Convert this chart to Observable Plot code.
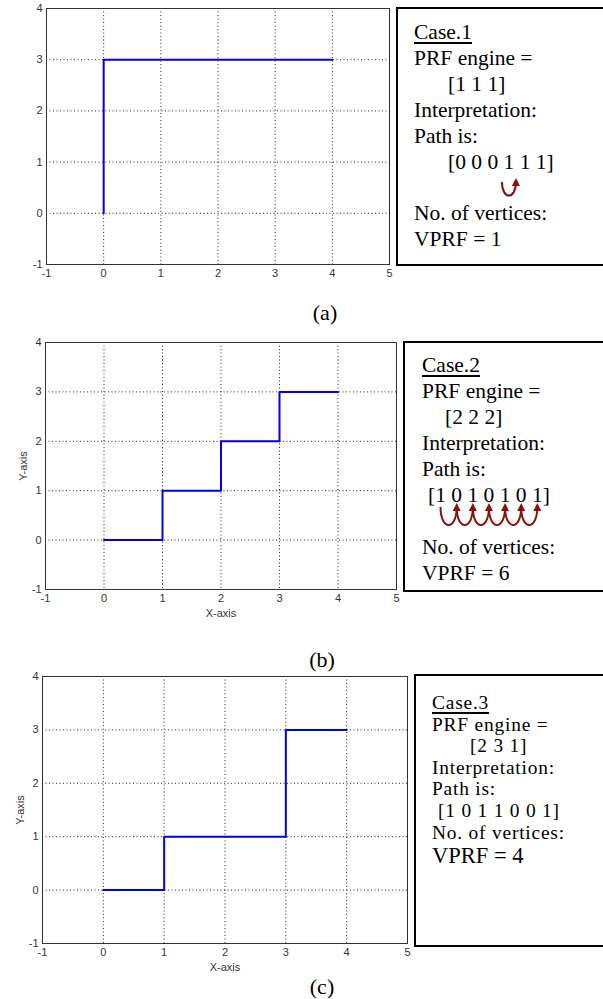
<!DOCTYPE html>
<html>
<head>
<meta charset="utf-8">
<script src="https://cdn.jsdelivr.net/npm/d3@7"></script>
<script src="https://cdn.jsdelivr.net/npm/@observablehq/plot@0.6"></script>
<style>
  html, body { margin: 0; padding: 0; background: #fff; }
  #page { position: relative; width: 603px; height: 999px; overflow: hidden; background: #fff; }
  .panel { position: absolute; left: 0; }
  .box { position: absolute; border: 2px solid #000; box-sizing: border-box; font-family: "Liberation Serif", "Times New Roman", serif; font-size: 21.5px; color: #000; white-space: pre; }
  .box .ln { display: block; }
  .box .u { text-decoration: underline; text-underline-offset: 3px; text-decoration-thickness: 1.5px; }
  .cap { position: absolute; font-family: "Liberation Serif", "Times New Roman", serif; font-size: 22px; transform: translate(-50%, -50%); }
  #arcs { position: absolute; left: 0; top: 0; width: 603px; height: 999px; pointer-events: none; }
</style>
</head>
<body>
<div id="page"></div>
<script>
// ---- data ----
const xTicks = [-1, 0, 1, 2, 3, 4, 5];
const yTicks = [-1, 0, 1, 2, 3, 4];
const gridXTicks = [0, 1, 2, 3, 4];
const gridYTicks = [0, 1, 2, 3];

// path corner points (drawn with a step-after curve)
const case1X = [0, 0, 4];
const case1Y = [0, 3, 3];
const case2X = [0, 1, 2, 3, 4];
const case2Y = [0, 1, 2, 3, 3];
const case3X = [0, 1, 3, 4];
const case3Y = [0, 1, 3, 3];

const case1Lines = ["Case.1", "PRF engine =", "[1 1 1]", "Interpretation:", "Path is:", "[0 0 0 1 1 1]", "", "No. of vertices:", "VPRF = 1"];
const case2Lines = ["Case.2", "PRF engine =", "[2 2 2]", "Interpretation:", "Path is:", "[1 0 1 0 1 0 1]", "", "No. of vertices:", "VPRF = 6"];
const case3Lines = ["Case.3", "PRF engine =", "[2 3 1]", "Interpretation:", "Path is:", "[1 0 1 1 0 0 1]", "No. of vertices:", "VPRF = 4"];
const captions = ["(a)", "(b)", "(c)"];

const page = document.getElementById("page");
const fmt = d => String(d);

function panel(xs, ys, opt) {
  const idx = xs.map((_, i) => i);
  const p = Plot.plot({
    width: opt.width, height: opt.height,
    marginLeft: opt.ml, marginRight: opt.mr, marginTop: opt.mt, marginBottom: opt.mb,
    x: {domain: [-1, 5]},
    y: {domain: [-1, 4]},
    style: {fontFamily: "'Liberation Sans', Arial, sans-serif", fontSize: "11px", color: "#222", background: "transparent", overflow: "visible"},
    marks: [
      Plot.gridX(gridXTicks, {stroke: "#000", strokeOpacity: 0.85, strokeDasharray: "1,2.5"}),
      Plot.gridY(gridYTicks, {stroke: "#000", strokeOpacity: 0.85, strokeDasharray: "1,2.5"}),
      Plot.axisX(xTicks, {tickSize: 0, tickPadding: 5, tickFormat: fmt, label: opt.labels ? "X-axis" : null, labelAnchor: "center", labelArrow: "none", labelOffset: 27, fill: "#333"}),
      Plot.axisY(yTicks, {tickSize: 0, tickPadding: 4, tickFormat: fmt, label: opt.labels ? "Y-axis" : null, labelAnchor: "center", labelArrow: "none", labelOffset: 26, fill: "#333"}),
      Plot.line(idx, {x: i => xs[i], y: i => ys[i], curve: "step-after", stroke: "#0000ee", strokeWidth: 2}),
      Plot.frame({stroke: "#333", strokeWidth: 1})
    ]
  });
  p.classList.add("panel");
  p.style.top = opt.top + "px";
  page.appendChild(p);
}

panel(case1X, case1Y, {top: 0, width: 395, height: 290, ml: 46, mr: 6, mt: 8, mb: 26, labels: false});
panel(case2X, case2Y, {top: 330, width: 400, height: 290, ml: 45, mr: 4, mt: 12, mb: 31, labels: true});
panel(case3X, case3Y, {top: 665, width: 412, height: 310, ml: 42, mr: 5, mt: 11, mb: 32, labels: true});

function box(lines, opt) {
  const d = document.createElement("div");
  d.className = "box";
  d.style.left = opt.left + "px";
  d.style.top = opt.top + "px";
  d.style.width = (640 - opt.left) + "px";
  d.style.height = (opt.bottom - opt.top) + "px";
  d.style.paddingLeft = opt.pl + "px";
  d.style.paddingTop = opt.pt + "px";
  d.style.lineHeight = opt.lh + "px";
  if (opt.fs) d.style.fontSize = opt.fs + "px";
  if (opt.ls) d.style.letterSpacing = opt.ls + "px";
  lines.forEach((t, i) => {
    const l = document.createElement("span");
    l.className = "ln";
    if (i === 0) {
      const u = document.createElement("span");
      u.className = "u";
      u.textContent = t;
      l.appendChild(u);
    } else if (opt.digitsLine === i) {
      // split the path digits so the arcs can find them
      l.appendChild(document.createTextNode("["));
      const ds = t.slice(1, -1).split(" ");
      ds.forEach((dg, k) => {
        const s = document.createElement("span");
        s.className = "dg";
        s.textContent = dg;
        l.appendChild(s);
        if (k < ds.length - 1) l.appendChild(document.createTextNode(" "));
      });
      l.appendChild(document.createTextNode("]"));
    } else {
      l.textContent = t || "\u00a0";
    }
    if (opt.indent[i]) l.style.paddingLeft = opt.indent[i] + "px";
    if (opt.big && opt.big[i]) { l.style.fontSize = opt.big[i][0] + "px"; l.style.marginTop = opt.big[i][1] + "px"; l.style.letterSpacing = "0px"; }
    d.appendChild(l);
  });
  page.appendChild(d);
  return d;
}

const b1 = box(case1Lines, {left: 396, top: 7, bottom: 266, pl: 16, pt: 11, lh: 25.9, indent: {2: 34, 5: 34}, digitsLine: 5});
const b2 = box(case2Lines, {left: 403, top: 341, bottom: 592, pl: 17, pt: 9, lh: 26, indent: {2: 23, 5: 6}, digitsLine: 5});
const b3 = box(case3Lines, {left: 414, top: 674, bottom: 947, pl: 16, pt: 16, lh: 21.6, fs: 19.4, ls: 0.8, indent: {2: 38, 5: 6}, big: {7: [22.5, 2]}});

[[captions[0], 325, 313], [captions[1], 322, 660], [captions[2], 322, 987]].forEach(([t, x, y]) => {
  const c = document.createElement("div");
  c.className = "cap";
  c.textContent = t;
  c.style.left = x + "px";
  c.style.top = y + "px";
  page.appendChild(c);
});

// ---- arcs (annotation) ----
const svgNS = "http://www.w3.org/2000/svg";
const svg = document.createElementNS(svgNS, "svg");
svg.setAttribute("id", "arcs");
svg.innerHTML = '<defs><marker id="ah" viewBox="0 0 10 10" refX="5" refY="5" markerWidth="4" markerHeight="4" orient="auto"><path d="M0,0 L10,5 L0,10 z" fill="#8b1010"/></marker></defs>';
page.appendChild(svg);
const pr = page.getBoundingClientRect();
function arc(x1, x2, yt, yb) {
  const p = document.createElementNS(svgNS, "path");
  p.setAttribute("d", `M${x1},${yt} C${x1},${yb} ${x2},${yb} ${x2},${yt}`);
  p.setAttribute("fill", "none");
  p.setAttribute("stroke", "#8b1010");
  p.setAttribute("stroke-width", 2);
  p.setAttribute("marker-end", "url(#ah)");
  svg.appendChild(p);
}
function centers(b) {
  return [...b.querySelectorAll(".dg")].map(s => { const r = s.getBoundingClientRect(); return r.left + r.width / 2 - pr.left; });
}
const c1 = centers(b1);
arc(c1[3] - 7, c1[3] + 7, 182, 200);
const c2 = centers(b2);
for (let i = 0; i < c2.length - 1; i++) arc(c2[i], c2[i + 1], 507, 531);
</script>
</body>
</html>
